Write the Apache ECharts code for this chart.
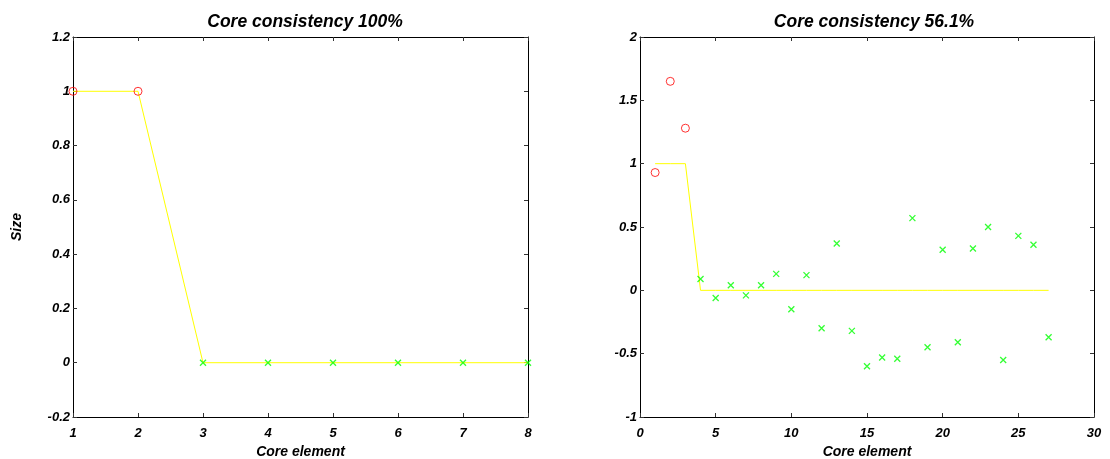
<!DOCTYPE html>
<html>
<head>
<meta charset="utf-8">
<script src="https://cdn.jsdelivr.net/npm/echarts@6/dist/echarts.min.js"></script>
<style>
html,body{margin:0;padding:0;background:#fff;}
#c{width:1110px;height:459px;}
</style>
</head>
<body>
<div id="c"></div>
<script>
// ---- data ----
const leftTitle = 'Core consistency 100%';
const rightTitle = 'Core consistency 56.1%';
const xName = 'Core element';
const yName = 'Size';

const leftElements = [1, 2, 3, 4, 5, 6, 7, 8];
const leftIdeal = [1, 1, 0, 0, 0, 0, 0, 0];
const leftCore = [1, 1, 0, 0, 0, 0, 0, 0];
const leftSuperCount = 2;

const rightElements = [1,2,3,4,5,6,7,8,9,10,11,12,13,14,15,16,17,18,19,20,21,22,23,24,25,26,27];
const rightIdeal = [1,1,1,0,0,0,0,0,0,0,0,0,0,0,0,0,0,0,0,0,0,0,0,0,0,0,0];
const rightCore = [0.93, 1.65, 1.28, 0.09, -0.06, 0.04, -0.04, 0.04, 0.13, -0.15,
                   0.12, -0.30, 0.37, -0.32, -0.60, -0.53, -0.54, 0.57, -0.45, 0.32,
                   -0.41, 0.33, 0.50, -0.55, 0.43, 0.36, -0.37];
const rightSuperCount = 3;

const leftXTicks = {min: 1, max: 8, interval: 1};
const leftYTicks = {min: -0.2, max: 1.2, interval: 0.2};
const rightXTicks = {min: 0, max: 30, interval: 5};
const rightYTicks = {min: -1, max: 2, interval: 0.5};

// ---- build ----
const FONT = '"Liberation Sans", Arial, sans-serif';
const labelStyle = {fontFamily: FONT, fontWeight: 'bold', fontStyle: 'italic', fontSize: 13, color: '#000'};
const titleStyle = {fontFamily: FONT, fontWeight: 'bold', fontStyle: 'italic', fontSize: 17.5, color: '#000'};
const crossPath = 'path://M0,0L10,10M10,0L0,10';

function fmt(v) {
  return String(Math.round(v * 10) / 10);
}

function axisPair(gi, t, isX, name, nameGap, withName) {
  const common = {
    type: 'value', gridIndex: gi, min: t.min, max: t.max, interval: t.interval,
    splitLine: {show: false},
    axisLine: {show: true, onZero: false, lineStyle: {color: '#000', width: 1}},
    axisTick: {show: true, inside: true, length: 4, lineStyle: {color: '#333', width: 1}}
  };
  const main = Object.assign({}, common, {
    position: isX ? 'bottom' : 'left',
    axisLabel: Object.assign({}, labelStyle, {margin: isX ? 10 : 3, formatter: fmt, showMinLabel: true, showMaxLabel: true})
  });
  if (withName) {
    main.name = name;
    main.nameLocation = 'middle';
    main.nameGap = nameGap;
    main.nameTextStyle = Object.assign({}, labelStyle, {fontSize: 14});
  }
  const mirror = Object.assign({}, common, {
    position: isX ? 'top' : 'right',
    axisLabel: {show: false}
  });
  return [main, mirror];
}

const lx = axisPair(0, leftXTicks, true, xName, 23, true);
const ly = axisPair(0, leftYTicks, false, yName, 49, true);
const rx = axisPair(1, rightXTicks, true, xName, 23, true);
const ry = axisPair(1, rightYTicks, false, yName, 49, false);

function pts(xs, ys, from, to) {
  const out = [];
  for (let i = from; i < to; i++) out.push([xs[i], ys[i]]);
  return out;
}

const circleStyle = {color: 'rgba(0,0,0,0)', borderColor: '#ff0000', borderWidth: 1};
const crossStyle = {color: 'rgba(0,0,0,0)', borderColor: '#00ff00', borderWidth: 1.3};

const option = {
  animation: false,
  backgroundColor: '#fff',
  title: [
    {text: leftTitle, left: 300, top: 8, textAlign: 'center', textStyle: titleStyle},
    {text: rightTitle, left: 869, top: 8, textAlign: 'center', textStyle: titleStyle}
  ],
  grid: [
    {left: 73, right: 582, top: 37, bottom: 42, show: false, containLabel: false, outerBoundsMode: 'none'},
    {left: 640, right: 16, top: 37, bottom: 42, show: false, containLabel: false, outerBoundsMode: 'none'}
  ],
  xAxis: [lx[0], lx[1], rx[0], rx[1]],
  yAxis: [ly[0], ly[1], ry[0], ry[1]],
  series: [
    {type: 'line', xAxisIndex: 0, yAxisIndex: 0, data: pts(leftElements, leftIdeal, 0, leftElements.length),
     showSymbol: false, lineStyle: {color: '#ffff00', width: 1}, z: 1, silent: true},
    {type: 'scatter', xAxisIndex: 0, yAxisIndex: 0, data: pts(leftElements, leftCore, 0, leftSuperCount),
     symbol: 'circle', symbolSize: 8, clip: false, itemStyle: circleStyle, z: 3},
    {type: 'scatter', xAxisIndex: 0, yAxisIndex: 0, data: pts(leftElements, leftCore, leftSuperCount, leftElements.length),
     symbol: crossPath, symbolSize: 6, clip: false, itemStyle: crossStyle, z: 3},
    {type: 'line', xAxisIndex: 2, yAxisIndex: 2, data: pts(rightElements, rightIdeal, 0, rightElements.length),
     showSymbol: false, lineStyle: {color: '#ffff00', width: 1}, z: 1, silent: true},
    {type: 'scatter', xAxisIndex: 2, yAxisIndex: 2, data: pts(rightElements, rightCore, 0, rightSuperCount),
     symbol: 'circle', symbolSize: 8, clip: false, itemStyle: circleStyle, z: 3},
    {type: 'scatter', xAxisIndex: 2, yAxisIndex: 2, data: pts(rightElements, rightCore, rightSuperCount, rightElements.length),
     symbol: crossPath, symbolSize: 6, clip: false, itemStyle: crossStyle, z: 3}
  ]
};

const chart = echarts.init(document.getElementById('c'), null, {renderer: 'canvas'});
chart.setOption(option);
</script>
</body>
</html>
